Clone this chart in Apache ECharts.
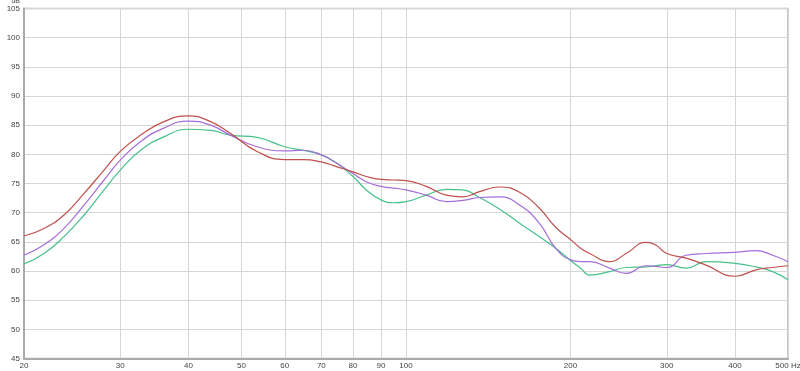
<!DOCTYPE html>
<html><head><meta charset="utf-8">
<script src="https://cdn.jsdelivr.net/npm/echarts@6/dist/echarts.min.js"></script>
<style>html,body{margin:0;padding:0;background:#fff}#c{width:800px;height:371px}</style>
</head><body><div id="c"></div>
<script>
const xTicks = [20,30,40,50,60,70,80,90,100,200,300,400,500];
const yMin = 45, yMax = 105, yStep = 5;

const freqs    = [20,21.76,23.67,25.76,28.02,30,32.7,36.06,40,43.9,47.7,53.4,60,64.8,70,74.6,80,84.6,90,95,100,108.9,118.5,127.1,136.3,148.4,161.4,175.3,187.9,200,208.6,216.8,235.8,252.9,275,286,300,325.5,354,400,436.8,468.8,500];
const redDb    = [66.0,67.3,69.6,73.3,77.3,80.5,83.3,85.6,86.6,85.6,83.6,80.5,79.1,79.1,78.7,77.9,77.0,76.2,75.7,75.6,75.5,74.5,73.0,72.7,73.6,74.4,73.5,70.8,67.5,65.4,63.9,63.0,61.6,63.0,64.9,64.5,63.0,62.2,61.0,59.1,60.2,60.6,60.9];
const purpleDb = [62.7,64.5,67.3,71.3,75.6,79.0,82.2,84.5,85.7,85.0,83.3,81.3,80.6,80.7,79.9,78.5,76.7,75.3,74.5,74.2,73.9,73.0,71.9,72.1,72.6,72.7,71.3,68.2,63.9,61.9,61.6,61.6,60.5,59.6,60.9,60.8,60.6,62.7,63.0,63.2,63.5,62.7,61.6];
const greenDb  = [61.2,63.0,65.9,69.6,73.9,77.3,80.7,83.0,84.3,84.1,83.3,82.9,81.3,80.7,79.9,78.5,76.2,73.9,72.2,71.7,71.9,73.0,74.0,73.9,72.6,70.6,68.2,65.9,63.9,61.8,60.5,59.3,59.9,60.6,60.7,60.9,61.1,60.5,61.6,61.3,60.7,59.9,58.5];

function pairs(d){ return freqs.map((f,i)=>[f,d[i]]); }

const chart = echarts.init(document.getElementById('c'), null, {renderer:'canvas'});
const font = 'Liberation Sans, Arial, sans-serif';
chart.setOption({
  animation:false,
  grid:{left:24,right:12,top:8.5,bottom:12.5,outerBoundsMode:'none',containLabel:false,
        show:true,borderColor:'#b4b4b4',borderWidth:1.5},
  xAxis:{
    type:'log', logBase:10, min:20, max:500,
    axisLine:{show:true,lineStyle:{color:'#aaaaaa',width:2}},
    axisTick:{show:false,customValues:xTicks},
    axisLabel:{customValues:xTicks,color:'#444',fontSize:8,fontFamily:font,margin:3,
      formatter:v=> (v===500?'500 Hz':String(v))},
    splitLine:{show:true,lineStyle:{color:'#d6d6d6',width:1}}
  },
  yAxis:{
    type:'value', min:yMin, max:yMax, interval:yStep,
    name:'dB', nameLocation:'end', nameGap:1,
    nameTextStyle:{color:'#444',fontSize:7,fontFamily:font,align:'right',padding:[0,4,-4,0]},
    axisLine:{show:true,lineStyle:{color:'#aaaaaa',width:2}},
    axisTick:{show:false},
    axisLabel:{color:'#444',fontSize:8,fontFamily:font,margin:4},
    splitLine:{show:true,lineStyle:{color:'#d6d6d6',width:1}}
  },
  series:[
    {type:'line',data:pairs(greenDb),smooth:0.5,showSymbol:false,lineStyle:{color:'#47c08a',width:1.2}},
    {type:'line',data:pairs(purpleDb),smooth:0.5,showSymbol:false,lineStyle:{color:'#a46ed8',width:1.2}},
    {type:'line',data:pairs(redDb),smooth:0.5,showSymbol:false,lineStyle:{color:'#c0504d',width:1.2}}
  ]
});
</script></body></html>
